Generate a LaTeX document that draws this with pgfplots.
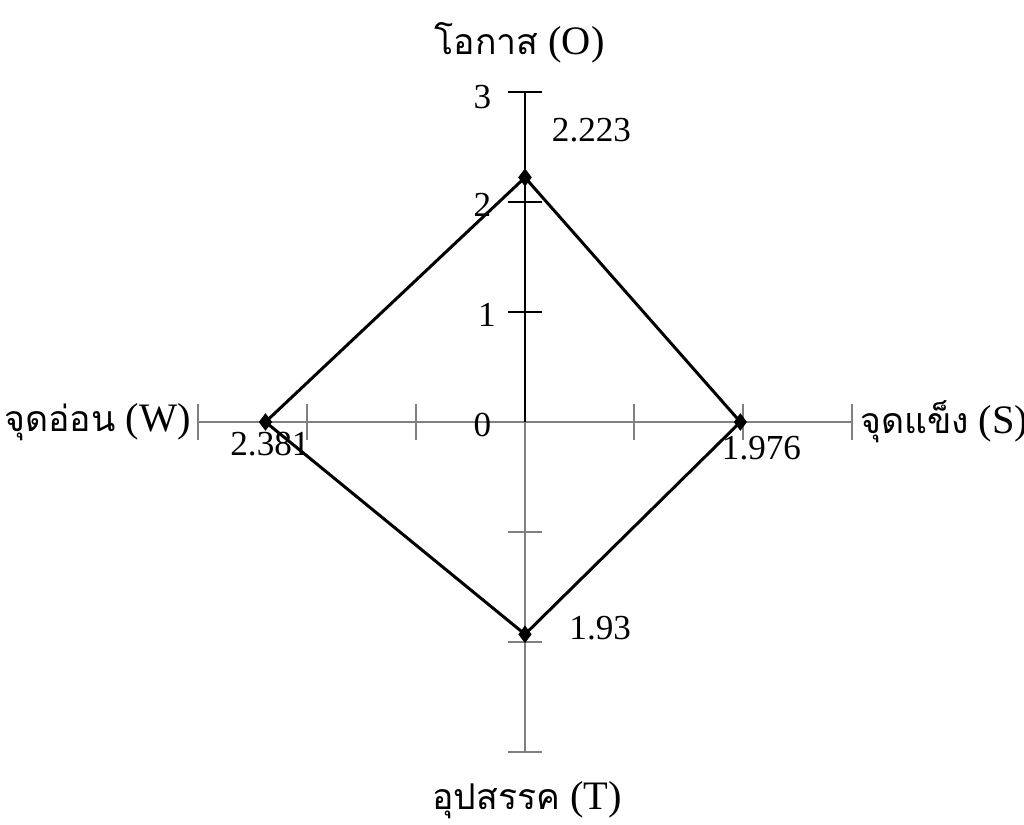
\documentclass[border=0pt]{standalone}
\usepackage{pgfplots}
\pgfplotsset{compat=1.18}
\usepackage{fontspec}
\setmainfont{Liberation Serif}
\newfontfamily\thaifont[Script=Thai, Scale=0.88]{Loma}
\begin{document}
\begin{tikzpicture}
\begin{axis}[
    scale only axis,
    width=6.54cm, height=6.6cm,
    xmin=-3, xmax=3, ymin=-3, ymax=3,
    hide axis,
    clip=false,
]
% arms of the cross
\addplot[gray, line width=0.6pt] coordinates {(-3,0) (3,0)};
\addplot[gray, line width=0.6pt] coordinates {(0,-3) (0,0)};
\addplot[black, line width=0.8pt] coordinates {(0,0) (0,3)};
% ticks on the horizontal arm
\foreach \t in {-3,-2,-1,1,2,3} {
    \edef\tmp{\noexpand\addplot[gray, line width=0.6pt] coordinates {(\t,-0.165) (\t,0.165)};}
    \tmp
}
% ticks on the vertical arm
\foreach \t in {-3,-2,-1} {
    \edef\tmp{\noexpand\addplot[gray, line width=0.6pt] coordinates {(-0.16,\t) (0.16,\t)};}
    \tmp
}
\foreach \t in {1,2,3} {
    \edef\tmp{\noexpand\addplot[black, line width=0.6pt] coordinates {(-0.16,\t) (0.16,\t)};}
    \tmp
}
% SWOT scores
\addplot[black, line width=0.85pt, mark=diamond*, mark size=1.8pt] coordinates {
    (0,2.223) (1.976,0) (0,-1.93) (-2.381,0) (0,2.223)
};
% tick numbers
\node[font=\fontsize{10}{12}\selectfont] at (axis cs:-0.39,2.95) {3};
\node[font=\fontsize{10}{12}\selectfont] at (axis cs:-0.39,1.97) {2};
\node[font=\fontsize{10}{12}\selectfont] at (axis cs:-0.35,0.97) {1};
\node[font=\fontsize{10}{12}\selectfont] at (axis cs:-0.39,-0.03) {0};
% value labels
\node[font=\fontsize{10}{12}\selectfont] at (axis cs:0.61,2.65) {2.223};
\node[font=\fontsize{10}{12}\selectfont] at (axis cs:-2.34,-0.2) {2.381};
\node[font=\fontsize{10}{12}\selectfont] at (axis cs:2.17,-0.24) {1.976};
\node[font=\fontsize{10}{12}\selectfont] at (axis cs:0.69,-1.87) {1.93};
% axis titles
\node[font=\fontsize{11.5}{13}\selectfont] at (axis cs:-0.05,3.45) {{\thaifont โอกาส} (O)};
\node[font=\fontsize{11.5}{13}\selectfont, anchor=east, inner sep=0pt] at (axis cs:-3.06,0) {{\thaifont จุดอ่อน} (W)};
\node[font=\fontsize{11.5}{13}\selectfont, anchor=west, inner sep=0pt] at (axis cs:3.07,0) {{\thaifont จุดแข็ง} (S)};
\node[font=\fontsize{11.5}{13}\selectfont] at (axis cs:0.02,-3.44) {{\thaifont อุปสรรค} (T)};
\coordinate (c) at (axis cs:0,0);
\end{axis}
\pgfresetboundingbox
\path[use as bounding box] (c) +(-5.25cm,-4.03cm) rectangle +(4.99cm,4.22cm);
\end{tikzpicture}
\end{document}
